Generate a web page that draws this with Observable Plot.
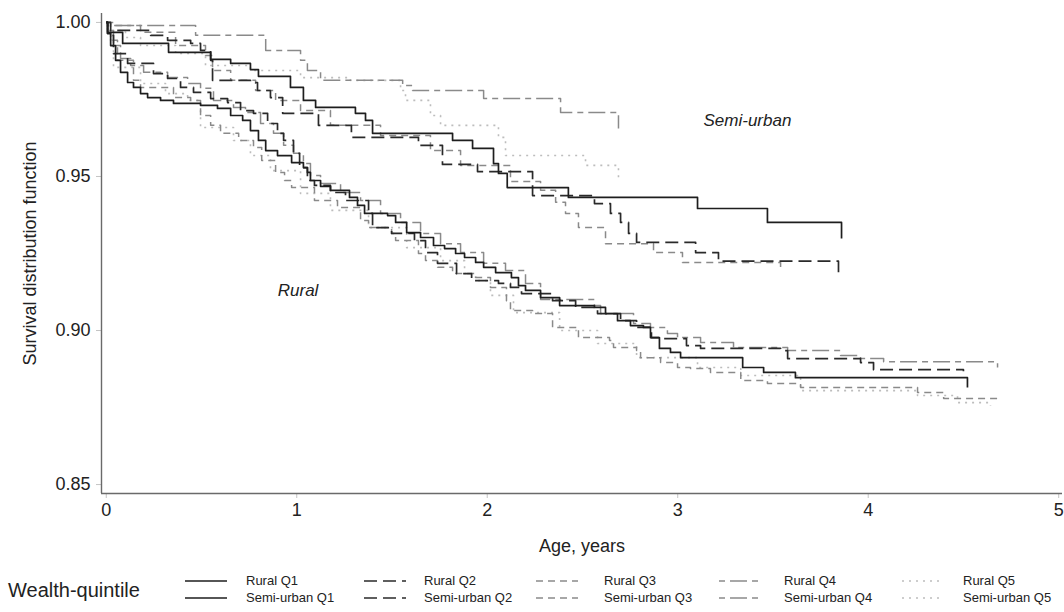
<!DOCTYPE html>
<html><head><meta charset="utf-8">
<script src="https://cdn.jsdelivr.net/npm/d3@7"></script>
<script src="https://cdn.jsdelivr.net/npm/@observablehq/plot@0.6"></script>
<style>
body{margin:0;background:#fff;font-family:"Liberation Sans",Arial,sans-serif;}
#wrap{position:relative;width:1064px;height:612px;overflow:hidden;background:#fff}
#legend{position:absolute;left:0;top:0;width:1064px;height:612px;}
.lg{position:absolute;white-space:nowrap;color:#222}
</style></head><body><div id="wrap"><div id="chart"></div><div id="legend"></div></div>
<script>
// ---- data (age in years, survival probability) ----
const groups = ["Rural", "Semi-urban"];
const quintiles = ["Q1", "Q2", "Q3", "Q4", "Q5"];
const xTicks = [0, 1, 2, 3, 4, 5];
const yTicks = [0.85, 0.90, 0.95, 1.00];

const ruralQ1 = [[0,1],[0.007,0.9964],[0.023,0.9925],[0.049,0.9877],[0.075,0.9838],[0.112,0.9805],[0.143,0.9789],[0.18,0.9769],[0.217,0.9756],[0.285,0.9747],[0.353,0.9737],[0.495,0.9731],[0.584,0.9721],[0.653,0.9698],[0.716,0.9682],[0.757,0.9649],[0.799,0.9617],[0.837,0.9584],[0.899,0.9568],[0.973,0.9545],[1.035,0.9529],[1.056,0.9513],[1.072,0.9487],[1.125,0.9468],[1.177,0.9455],[1.277,0.9432],[1.319,0.9406],[1.356,0.938],[1.477,0.9373],[1.519,0.9351],[1.577,0.9318],[1.65,0.9302],[1.718,0.9276],[1.776,0.9266],[1.834,0.925],[1.881,0.9237],[1.939,0.9221],[1.981,0.9205],[2.044,0.9188],[2.127,0.9172],[2.164,0.9146],[2.201,0.913],[2.28,0.9107],[2.38,0.9081],[2.563,0.9075],[2.621,0.9055],[2.684,0.9032],[2.752,0.9016],[2.82,0.901],[2.857,0.8977],[2.904,0.8942],[2.962,0.8929],[3.015,0.8912],[3.341,0.888],[3.451,0.8864],[3.618,0.8847],[4.521,0.8815]];
const ruralQ2 = [[0,1],[0.007,0.9958],[0.038,0.9899],[0.112,0.9867],[0.248,0.9834],[0.322,0.9818],[0.39,0.9789],[0.458,0.9773],[0.548,0.9753],[0.637,0.974],[0.705,0.9714],[0.773,0.9705],[0.847,0.9672],[0.899,0.964],[0.931,0.9617],[0.983,0.9575],[1.015,0.9529],[1.056,0.9487],[1.093,0.9471],[1.177,0.9448],[1.256,0.9422],[1.377,0.938],[1.398,0.9334],[1.498,0.9315],[1.618,0.9292],[1.676,0.9253],[1.739,0.9218],[1.839,0.9185],[1.918,0.9162],[2.059,0.9153],[2.122,0.914],[2.18,0.912],[2.343,0.9097],[2.464,0.9075],[2.579,0.9055],[2.7,0.9032],[2.784,0.901],[2.862,0.8977],[2.926,0.8974],[3.046,0.8951],[3.12,0.8942],[3.54,0.8935],[3.577,0.8909],[3.96,0.8896],[4.028,0.8873],[4.5,0.8868]];
const ruralQ3 = [[0,1],[0.023,0.9942],[0.059,0.9877],[0.143,0.9812],[0.18,0.9789],[0.353,0.9756],[0.443,0.9747],[0.495,0.9698],[0.548,0.9666],[0.6,0.964],[0.695,0.9617],[0.773,0.9594],[0.816,0.9552],[0.889,0.9513],[0.936,0.9487],[0.973,0.9464],[1.093,0.9422],[1.214,0.9399],[1.335,0.9357],[1.377,0.9334],[1.498,0.9315],[1.519,0.9292],[1.639,0.925],[1.676,0.9227],[1.739,0.9205],[1.818,0.9185],[1.939,0.9172],[2.017,0.914],[2.101,0.9097],[2.122,0.9065],[2.238,0.9055],[2.343,0.901],[2.479,0.8977],[2.642,0.8968],[2.663,0.8945],[2.784,0.8935],[2.805,0.8912],[2.91,0.8896],[2.999,0.888],[3.067,0.8877],[3.172,0.8864],[3.331,0.8838],[3.471,0.8828],[3.645,0.8815],[4.259,0.8799],[4.396,0.8779],[4.679,0.8773]];
const ruralQ4 = [[0,1],[0.007,0.9974],[0.038,0.9925],[0.075,0.9883],[0.128,0.986],[0.196,0.9838],[0.322,0.9821],[0.427,0.9802],[0.495,0.9786],[0.563,0.9747],[0.668,0.9724],[0.731,0.9708],[0.81,0.9672],[0.878,0.964],[0.931,0.9601],[0.983,0.9575],[1.035,0.9542],[1.072,0.9503],[1.125,0.9477],[1.23,0.9448],[1.335,0.9422],[1.44,0.938],[1.545,0.9351],[1.65,0.9315],[1.755,0.9282],[1.86,0.9253],[1.981,0.9218],[2.096,0.9195],[2.201,0.9153],[2.28,0.9101],[2.563,0.9081],[2.595,0.9055],[2.768,0.9023],[2.857,0.901],[2.946,0.899],[2.999,0.8977],[3.12,0.8961],[3.293,0.8945],[3.577,0.8935],[3.855,0.8919],[3.96,0.8909],[4.081,0.8899],[4.679,0.888]];
const ruralQ5 = [[0,1],[0.023,0.9925],[0.038,0.9854],[0.18,0.9802],[0.311,0.9769],[0.427,0.9747],[0.495,0.9659],[0.668,0.9617],[0.757,0.9568],[0.862,0.9519],[1.02,0.9445],[1.177,0.939],[1.377,0.9334],[1.577,0.9269],[1.755,0.9227],[1.881,0.9185],[1.939,0.9162],[2.017,0.9114],[2.138,0.9058],[2.38,0.9],[2.579,0.8958],[2.784,0.8912],[3.104,0.888],[3.331,0.8854],[3.645,0.8805],[4.259,0.8789],[4.469,0.8766],[4.642,0.8756]];
const semiQ1 = [[0,1],[0.007,0.9968],[0.086,0.9932],[0.327,0.9903],[0.548,0.988],[0.653,0.9867],[0.757,0.9847],[0.799,0.9825],[0.967,0.9789],[1.035,0.9747],[1.099,0.9724],[1.308,0.9705],[1.361,0.9682],[1.398,0.964],[1.818,0.9617],[1.923,0.9591],[2.033,0.9542],[2.059,0.951],[2.105,0.9464],[2.426,0.9432],[3.104,0.9396],[3.471,0.9351],[3.86,0.9299]];
const semiQ2 = [[0,1],[0.023,0.9974],[0.233,0.9958],[0.322,0.9942],[0.443,0.9932],[0.495,0.9909],[0.548,0.9877],[0.558,0.9812],[0.757,0.9805],[0.794,0.9779],[0.862,0.9756],[0.926,0.9705],[1.114,0.9666],[1.287,0.9627],[1.639,0.9601],[1.765,0.9539],[1.949,0.9516],[2.238,0.9438],[2.563,0.9412],[2.647,0.938],[2.7,0.9351],[2.742,0.9315],[2.784,0.9286],[3.094,0.9253],[3.214,0.9225],[3.844,0.9179]];
const semiQ3 = [[0,1],[0.049,0.999],[0.18,0.9968],[0.364,0.9925],[0.521,0.9893],[0.558,0.9844],[0.653,0.9812],[0.784,0.9779],[0.889,0.9747],[1.02,0.9714],[1.177,0.9666],[1.44,0.9633],[1.702,0.9584],[1.86,0.9536],[2.122,0.9484],[2.28,0.9455],[2.359,0.9416],[2.411,0.938],[2.479,0.9334],[2.621,0.9282],[2.873,0.9253],[3.025,0.9221],[3.54,0.9201]];
const semiQ4 = [[0,1],[0.007,0.999],[0.469,0.9958],[0.837,0.9909],[1.02,0.9877],[1.056,0.9844],[1.125,0.9812],[1.556,0.9795],[1.608,0.9779],[1.981,0.9753],[2.385,0.9708],[2.689,0.9656]];
const semiQ5 = [[0,1],[0.007,0.9974],[0.101,0.9951],[0.18,0.9925],[0.364,0.9899],[0.521,0.986],[0.757,0.9844],[1.02,0.9821],[1.282,0.9812],[1.545,0.9779],[1.571,0.9747],[1.702,0.9698],[1.755,0.9666],[2.059,0.9627],[2.096,0.9568],[2.516,0.9536],[2.689,0.9497]];

const annotations = [
  {label: "Semi-urban", age: 3.366, surv: 0.9682},
  {label: "Rural", age: 1.007, surv: 0.913}
];

// ---- styles per quintile ----
const styles = {
  Q1: {stroke: "#1e1e1e", dash: null, width: 1.7},
  Q2: {stroke: "#2a2a2a", dash: "13,6", width: 1.7},
  Q3: {stroke: "#8a8a8a", dash: "7,5", width: 1.5},
  Q4: {stroke: "#8a8a8a", dash: "6,5,17,5", width: 1.5},
  Q5: {stroke: "#bdbdbd", dash: "2,5", width: 1.6}
};

const seriesData = {
  "Rural Q1": ruralQ1, "Rural Q2": ruralQ2, "Rural Q3": ruralQ3, "Rural Q4": ruralQ4, "Rural Q5": ruralQ5,
  "Semi-urban Q1": semiQ1, "Semi-urban Q2": semiQ2, "Semi-urban Q3": semiQ3, "Semi-urban Q4": semiQ4, "Semi-urban Q5": semiQ5
};

const xDomain = [-0.025, 5.02];
const yDomain = [0.8471, 1.0029];

const lineMarks = [];
for (const q of ["Q5", "Q4", "Q3", "Q2", "Q1"]) {
  for (const g of groups) {
    const name = `${g} ${q}`;
    const rows = seriesData[name].map(([age, surv]) => ({name, age, surv}));
    const s = styles[q];
    lineMarks.push(Plot.line(rows, {
      x: "age", y: "surv", curve: "step-after",
      stroke: s.stroke, strokeWidth: s.width,
      strokeDasharray: s.dash ?? undefined, strokeLinecap: "butt"
    }));
  }
}

const chart = Plot.plot({
  width: 1064, height: 560,
  marginLeft: 101, marginRight: 2, marginTop: 13, marginBottom: 67,
  style: {fontFamily: "'Liberation Sans', Arial, sans-serif", fontSize: "18px", color: "#222", background: "#fff", overflow: "visible"},
  x: {domain: xDomain},
  y: {domain: yDomain},
  marks: [
    Plot.axisX({ticks: xTicks, tickFormat: d3.format("d"), tickSize: 5, tickPadding: 5, stroke: "#c4c4c4", fill: "#222", fontSize: 18,
      label: "Age, years", labelAnchor: "center", labelOffset: 58, labelArrow: "none"}),
    Plot.axisY({ticks: yTicks, tickFormat: d3.format(".2f"), tickSize: 5, tickPadding: 6, stroke: "#c4c4c4", fill: "#222", fontSize: 18,
      label: "Survival distribution function", labelAnchor: "center", labelOffset: 78, labelArrow: "none"}),
    ...lineMarks,
    Plot.ruleX([xDomain[0]], {stroke: "#6a6a6a", strokeWidth: 1.4}),
    Plot.ruleY([yDomain[0]], {stroke: "#6a6a6a", strokeWidth: 1.4}),
    Plot.text(annotations, {x: "age", y: "surv", text: "label", fontStyle: "italic", fontSize: 17, fill: "#222"})
  ]
});
document.getElementById("chart").appendChild(chart);

// ---- legend ----
const legend = document.getElementById("legend");
const colSample = [185, 364, 536, 719, 902];
const colText = [246, 424, 604, 784, 963];
const rowY = [581, 598];
const title = document.createElement("div");
title.className = "lg";
title.textContent = "Wealth-quintile";
title.style.cssText = "left:8px;top:578px;font-size:20px;line-height:24px;";
legend.appendChild(title);
groups.forEach((g, r) => {
  quintiles.forEach((q, c) => {
    const s = styles[q];
    const sw = document.createElementNS("http://www.w3.org/2000/svg", "svg");
    sw.setAttribute("width", 42); sw.setAttribute("height", 6);
    sw.style.cssText = `position:absolute;left:${colSample[c]}px;top:${rowY[r] - 3}px;`;
    const ln = document.createElementNS("http://www.w3.org/2000/svg", "line");
    ln.setAttribute("x1", 0); ln.setAttribute("x2", 42); ln.setAttribute("y1", 3); ln.setAttribute("y2", 3);
    ln.setAttribute("stroke", s.stroke); ln.setAttribute("stroke-width", s.width);
    if (s.dash) ln.setAttribute("stroke-dasharray", s.dash);
    sw.appendChild(ln);
    legend.appendChild(sw);
    const t = document.createElement("div");
    t.className = "lg";
    t.textContent = `${g} ${q}`;
    t.style.cssText = `left:${colText[c]}px;top:${rowY[r] - 8}px;font-size:13px;line-height:16px;`;
    legend.appendChild(t);
  });
});
</script></body></html>
